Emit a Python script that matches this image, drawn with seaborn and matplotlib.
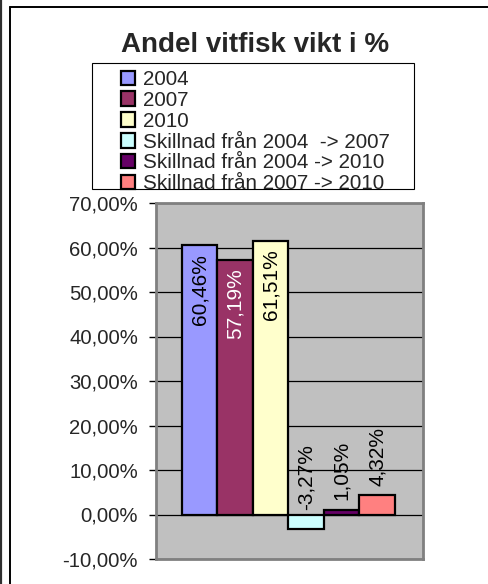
import matplotlib
matplotlib.use('Agg')
import matplotlib.pyplot as plt
import seaborn as sns
import pandas as pd
from matplotlib.lines import Line2D
from matplotlib.patches import Rectangle

# data
series = ['2004', '2007', '2010',
          'Skillnad från 2004  -> 2007',
          'Skillnad från 2004 -> 2010',
          'Skillnad från 2007 -> 2010']
values = [60.46, 57.19, 61.51, -3.27, 1.05, 4.32]
value_labels = ['60,46%', '57,19%', '61,51%', '-3,27%', '1,05%', '4,32%']
colors = ['#9999FF', '#993366', '#FFFFCC', '#CCFFFF', '#660066', '#FF8080']
label_colors = ['black', 'white', 'black', 'black', 'black', 'black']
yticks = [-10, 0, 10, 20, 30, 40, 50, 60, 70]
ytick_labels = ['-10,00%', '0,00%', '10,00%', '20,00%', '30,00%',
                '40,00%', '50,00%', '60,00%', '70,00%']

df = pd.DataFrame({'serie': series, 'value': values})

sns.set_style('white')
plt.rcParams['font.family'] = ['Liberation Sans', 'DejaVu Sans']

W, H = 488, 584
fig = plt.figure(figsize=(W / 100, H / 100), dpi=100)

# plot area in pixel coords -> figure fraction
px_l, px_r, px_t, px_b = 156, 423, 203, 559
ax = fig.add_axes([px_l / W, 1 - px_b / H, (px_r - px_l) / W, (px_b - px_t) / H])
ax.set_facecolor('#C0C0C0')

sns.barplot(data=df, x='serie', y='value', hue='serie', palette=colors,
            order=series, hue_order=series, width=1.0, dodge=False, saturation=1,
            edgecolor='black', linewidth=1.6, legend=False, ax=ax, zorder=3)

ax.set_xlim(-1.23, 6.29)
ax.set_ylim(-10, 70)
ax.set_yticks(yticks)
ax.set_yticklabels(ytick_labels, fontsize=14.6)
ax.set_xticks([])
ax.set_xlabel('')
ax.set_ylabel('')
ax.tick_params(axis='y', direction='out', length=5, width=1, color='black', pad=8, left=True)
ax.yaxis.grid(True, color='black', linewidth=0.9, zorder=1)
ax.set_axisbelow(True)
for s in ax.spines.values():
    s.set_color('#808080')
    s.set_linewidth(2)

# value labels, rotated
for i, (v, lab, c) in enumerate(zip(values, value_labels, label_colors)):
    if v > 20:
        ax.annotate(lab, (i, v), xytext=(0, -6), textcoords='offset points',
                    rotation=90, ha='center', va='top', fontsize=15, color=c, zorder=5)
    else:
        off = 7 if v > 0 else 3
        ax.annotate(lab, (i, max(v, 0)), xytext=(0, off), textcoords='offset points',
                    rotation=90, ha='center', va='bottom', fontsize=15, color=c, zorder=5)

# title
fig.text(255.5 / W, 1 - 52 / H, 'Andel vitfisk vikt i %', ha='center', va='baseline',
         fontsize=20, fontweight='bold')

# legend with a separate frame
handles = list(ax.patches[:len(series)])
leg = fig.legend(handles, series, loc='upper left', bbox_to_anchor=(121 / W, 1 - 70 / H),
                 frameon=False, fontsize=14.9, handlelength=0.7, handleheight=0.7,
                 handletextpad=0.35, labelspacing=0.09, borderpad=0, borderaxespad=0)
fig.patches.append(Rectangle((92 / W, 1 - 189 / H), (414 - 92) / W, (189 - 63) / H,
                             transform=fig.transFigure, fill=False, edgecolor='black',
                             linewidth=0.8))

# outer frame lines
fig.lines.append(Line2D([1 / W, 1 / W], [0, 1], transform=fig.transFigure,
                        color='#303030', linewidth=1.6))
fig.lines.append(Line2D([10 / W, 10 / W], [0, 1 - 7 / H], transform=fig.transFigure,
                        color='black', linewidth=1.4))
fig.lines.append(Line2D([10 / W, 1], [1 - 7 / H, 1 - 7 / H], transform=fig.transFigure,
                        color='black', linewidth=1.4))

fig.savefig('out.png', dpi=100, facecolor='white')
